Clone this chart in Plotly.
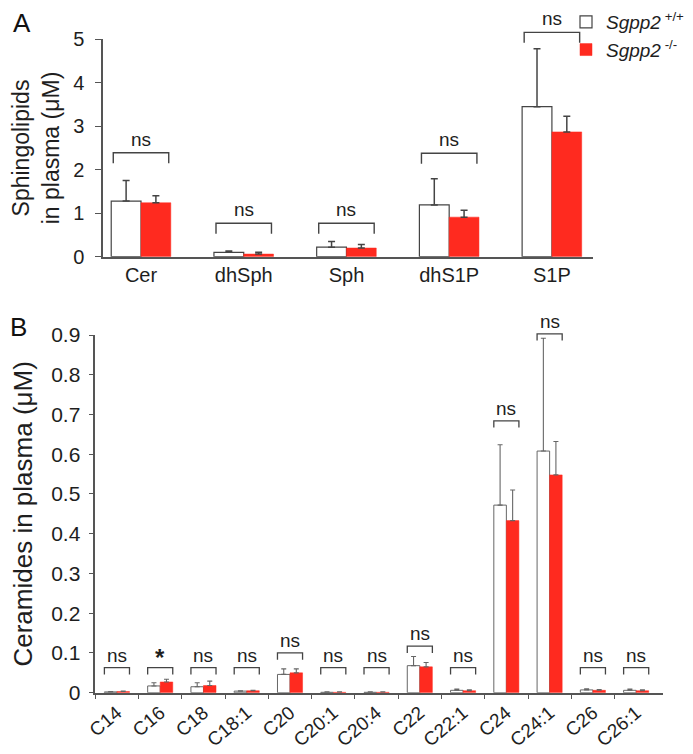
import plotly.graph_objects as go

# ---------------- data ----------------
catA = ["Cer", "dhSph", "Sph", "dhS1P", "S1P"]
wtA = [1.28, 0.10, 0.22, 1.19, 3.45]
wtA_top = [1.75, 0.13, 0.35, 1.79, 4.78]
koA = [1.24, 0.06, 0.20, 0.91, 2.87]
koA_top = [1.40, 0.10, 0.28, 1.07, 3.23]
sigA = ["ns", "ns", "ns", "ns", "ns"]
brA = [2.39, 0.77, 0.77, 2.38, 5.16]

catB = ["C14", "C16", "C18", "C18:1", "C20", "C20:1", "C20:4", "C22",
        "C22:1", "C24", "C24:1", "C26", "C26:1"]
wtB = [0.002, 0.017, 0.015, 0.004, 0.046, 0.001, 0.001, 0.068, 0.006, 0.472, 0.608, 0.007, 0.006]
wtB_top = [0.003, 0.025, 0.025, 0.005, 0.060, 0.002, 0.002, 0.091, 0.009, 0.624, 0.892, 0.010, 0.009]
koB = [0.003, 0.027, 0.018, 0.005, 0.050, 0.001, 0.001, 0.065, 0.005, 0.433, 0.548, 0.006, 0.005]
koB_top = [0.004, 0.034, 0.029, 0.006, 0.060, 0.002, 0.002, 0.076, 0.007, 0.510, 0.632, 0.008, 0.007]
sigB = ["ns", "*", "ns", "ns", "ns", "ns", "ns", "ns", "ns", "ns", "ns", "ns", "ns"]
brB = [0.063, 0.063, 0.063, 0.063, 0.100, 0.063, 0.063, 0.117, 0.063, 0.684, 0.903, 0.063, 0.063]

yrangeA = [0, 5]
yrangeB = [0, 0.9]

name_wt = "<i>Sgpp2</i><sup> +/+</sup>"
name_ko = "<i>Sgpp2</i><sup> -/-</sup>"

RED = "#ff2a1f"
GREY = "#555555"
TXT = "#1e1e1e"
FONT = "Liberation Sans, Arial, sans-serif"

xA = list(range(len(catA)))
xB = list(range(len(catB)))

fig = go.Figure()


def plus(top, val):
    return [t - v for t, v in zip(top, val)]


fig.add_trace(go.Bar(x=xA, y=wtA, name=name_wt, marker=dict(color="white", line=dict(color="#444", width=1.2)),
                     offsetgroup="wt", legendgroup="wt", xaxis="x", yaxis="y",
                     error_y=dict(type="data", symmetric=False, array=plus(wtA_top, wtA),
                                  color="#444", thickness=1.5, width=3.5)))
fig.add_trace(go.Bar(x=xA, y=koA, name=name_ko, marker=dict(color=RED, line=dict(color=RED, width=0.5)),
                     offsetgroup="ko", legendgroup="ko", xaxis="x", yaxis="y",
                     error_y=dict(type="data", symmetric=False, array=plus(koA_top, koA),
                                  color="#444", thickness=1.5, width=3.5)))
fig.add_trace(go.Bar(x=xB, y=wtB, name=name_wt, showlegend=False,
                     marker=dict(color="white", line=dict(color="#666", width=1)),
                     offsetgroup="wt", legendgroup="wt", xaxis="x2", yaxis="y2",
                     error_y=dict(type="data", symmetric=False, array=plus(wtB_top, wtB),
                                  color="#666", thickness=1.1, width=2.5)))
fig.add_trace(go.Bar(x=xB, y=koB, name=name_ko, showlegend=False,
                     marker=dict(color=RED, line=dict(color=RED, width=0.5)),
                     offsetgroup="ko", legendgroup="ko", xaxis="x2", yaxis="y2",
                     error_y=dict(type="data", symmetric=False, array=plus(koB_top, koB),
                                  color="#666", thickness=1.1, width=2.5)))


def dom(v, rng):
    return (v - rng[0]) / (rng[1] - rng[0])


shapes = []
ann = []
# brackets panel A
for i, (s, b) in enumerate(zip(sigA, brA)):
    hw = 0.27
    leg = 0.24
    y1 = dom(b, yrangeA)
    y0 = dom(b - leg, yrangeA)
    shapes.append(dict(type="path", xref="x", yref="y domain",
                       path=f"M {i-hw},{y0} L {i-hw},{y1} L {i+hw},{y1} L {i+hw},{y0}",
                       line=dict(color="#444", width=1.4)))
    ann.append(dict(x=i, y=dom(b + 0.02, yrangeA), xref="x", yref="y domain", text=s, showarrow=False,
                    yanchor="bottom", font=dict(size=19, color=TXT, family=FONT)))
# brackets panel B
for i, (s, b) in enumerate(zip(sigB, brB)):
    hw = 0.29
    leg = 0.017
    y1 = dom(b, yrangeB)
    y0 = dom(b - leg, yrangeB)
    shapes.append(dict(type="path", xref="x2", yref="y2 domain",
                       path=f"M {i-hw},{y0} L {i-hw},{y1} L {i+hw},{y1} L {i+hw},{y0}",
                       line=dict(color="#444", width=1.3)))
    if s == "*":
        ann.append(dict(x=i, y=dom(b - 0.014, yrangeB), xref="x2", yref="y2 domain", text="<b>*</b>",
                        showarrow=False, yanchor="bottom", font=dict(size=24, color=TXT, family=FONT)))
    else:
        ann.append(dict(x=i, y=dom(b + 0.0, yrangeB), xref="x2", yref="y2 domain", text=s,
                        showarrow=False, yanchor="bottom", font=dict(size=19, color=TXT, family=FONT)))

H = 754.0
W = 693.0
OFF = 8.0  # page offset of the plot in the browser window


def py(p):
    return 1 - (p - OFF) / H


ann.append(dict(x=14 / W, y=py(23), xref="paper", yref="paper", text="A", showarrow=False,
                xanchor="center", yanchor="middle", font=dict(size=26, color="#111", family=FONT)))
ann.append(dict(x=10 / W, y=py(327), xref="paper", yref="paper", text="B", showarrow=False,
                xanchor="center", yanchor="middle", font=dict(size=26, color="#111", family=FONT)))

fig.update_layout(
    width=693, height=754,
    margin=dict(l=0, r=0, t=0, b=0, autoexpand=False),
    paper_bgcolor="white", plot_bgcolor="white",
    font=dict(family=FONT, color=TXT),
    barmode="group", bargap=0.42, bargroupgap=0,
    showlegend=True,
    legend=dict(x=558 / W, y=py(3), xanchor="left", yanchor="top",
                font=dict(size=19, color=TXT, family=FONT), bgcolor="rgba(0,0,0,0)",
                itemwidth=30, tracegroupgap=0),
    shapes=shapes, annotations=ann,
    xaxis=dict(domain=[95 / W, 585 / W], range=[-0.37, 4.40], tickvals=xA, ticktext=catA,
               showline=True, linecolor=GREY, linewidth=1.5, ticks="", showgrid=False, zeroline=False,
               tickfont=dict(size=20, color=TXT), anchor="y", automargin=False),
    yaxis=dict(domain=[py(256.7), py(39.3)], range=yrangeA, tickvals=[0, 1, 2, 3, 4, 5],
               showline=True, linecolor=GREY, linewidth=1.5, ticks="outside", ticklen=6, tickcolor=GREY,
               showgrid=False, zeroline=False, tickfont=dict(size=20, color=TXT), anchor="x",
               automargin=False, ticklabelstandoff=7,
               title=dict(text="Sphingolipids<br>in plasma (μM)", font=dict(size=23, color=TXT), standoff=14)),
    xaxis2=dict(domain=[87.3 / W, 655 / W], range=[-0.5, 12.62], tickvals=xB, ticktext=catB,
                tickangle=-40, showline=True, linecolor=GREY, linewidth=1.5, ticks="", showgrid=False,
                zeroline=False, tickfont=dict(size=19, color=TXT), anchor="y2", automargin=False,
                minor=dict(tickvals=[k - 0.5 for k in range(len(catB))], ticks="outside", ticklen=5,
                           tickcolor=GREY, tickwidth=1.3, showgrid=False)),
    yaxis2=dict(domain=[py(692.7), py(335)], range=yrangeB,
                tickvals=[0, 0.1, 0.2, 0.3, 0.4, 0.5, 0.6, 0.7, 0.8, 0.9],
                ticktext=["0", "0.1", "0.2", "0.3", "0.4", "0.5", "0.6", "0.7", "0.8", "0.9"],
                showline=True, linecolor=GREY, linewidth=1.5, ticks="outside", ticklen=5, tickcolor=GREY,
                showgrid=False, zeroline=False, tickfont=dict(size=21, color=TXT), anchor="x2",
                automargin=False, ticklabelstandoff=4,
                title=dict(text="Ceramides in plasma (μM)", font=dict(size=26, color=TXT), standoff=19)),
)
for t in fig.data:
    t.cliponaxis = False

fig.write_html("out.html")
